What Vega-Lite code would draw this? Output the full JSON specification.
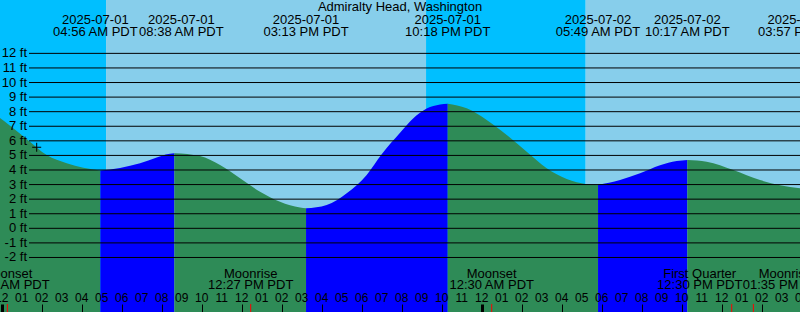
{
  "$schema": "https://vega.github.io/schema/vega-lite/v6.json",
  "width": 800,
  "height": 312,
  "autosize": "none",
  "padding": 0,
  "config": {
    "view": {"stroke": null},
    "text": {"font": "Liberation Sans", "fontSize": 13, "fill": "#000", "baseline": "alphabetic"}
  },
  "datasets": {
    "sky": [
      {"h": -1, "h2": 5.217, "sky": "night"},
      {"h": 5.217, "h2": 21.217, "sky": "day"},
      {"h": 21.217, "h2": 29.2, "sky": "night"},
      {"h": 29.2, "h2": 41, "sky": "day"}
    ],
    "tide": [
      {"h": -0.167, "ft": 7.65, "seg": 1, "phase": "ebb"},
      {"h": 0.417, "ft": 7.03, "seg": 1, "phase": "ebb"},
      {"h": 1.333, "ft": 6.03, "seg": 1, "phase": "ebb"},
      {"h": 2.25, "ft": 5.03, "seg": 1, "phase": "ebb"},
      {"h": 2.75, "ft": 4.7, "seg": 1, "phase": "ebb"},
      {"h": 3.25, "ft": 4.46, "seg": 1, "phase": "ebb"},
      {"h": 4.083, "ft": 4.16, "seg": 1, "phase": "ebb"},
      {"h": 4.933, "ft": 3.97, "seg": 1, "phase": "ebb"},
      {"h": 4.933, "ft": 3.97, "seg": 2, "phase": "flood"},
      {"h": 5.917, "ft": 4.14, "seg": 2, "phase": "flood"},
      {"h": 6.917, "ft": 4.46, "seg": 2, "phase": "flood"},
      {"h": 7.75, "ft": 4.85, "seg": 2, "phase": "flood"},
      {"h": 8.2, "ft": 5.07, "seg": 2, "phase": "flood"},
      {"h": 8.633, "ft": 5.15, "seg": 2, "phase": "flood"},
      {"h": 8.633, "ft": 5.15, "seg": 3, "phase": "ebb"},
      {"h": 9.917, "ft": 4.96, "seg": 3, "phase": "ebb"},
      {"h": 10.917, "ft": 4.34, "seg": 3, "phase": "ebb"},
      {"h": 11.917, "ft": 3.43, "seg": 3, "phase": "ebb"},
      {"h": 12.917, "ft": 2.51, "seg": 3, "phase": "ebb"},
      {"h": 13.917, "ft": 1.82, "seg": 3, "phase": "ebb"},
      {"h": 14.917, "ft": 1.42, "seg": 3, "phase": "ebb"},
      {"h": 15.217, "ft": 1.37, "seg": 3, "phase": "ebb"},
      {"h": 15.217, "ft": 1.37, "seg": 4, "phase": "flood"},
      {"h": 16.25, "ft": 1.6, "seg": 4, "phase": "flood"},
      {"h": 17.25, "ft": 2.4, "seg": 4, "phase": "flood"},
      {"h": 18.25, "ft": 3.66, "seg": 4, "phase": "flood"},
      {"h": 19.0, "ft": 5.08, "seg": 4, "phase": "flood"},
      {"h": 19.917, "ft": 6.55, "seg": 4, "phase": "flood"},
      {"h": 20.583, "ft": 7.55, "seg": 4, "phase": "flood"},
      {"h": 21.25, "ft": 8.22, "seg": 4, "phase": "flood"},
      {"h": 21.917, "ft": 8.5, "seg": 4, "phase": "flood"},
      {"h": 22.3, "ft": 8.55, "seg": 4, "phase": "flood"},
      {"h": 22.3, "ft": 8.55, "seg": 5, "phase": "ebb"},
      {"h": 23.25, "ft": 8.23, "seg": 5, "phase": "ebb"},
      {"h": 24.25, "ft": 7.43, "seg": 5, "phase": "ebb"},
      {"h": 25.25, "ft": 6.4, "seg": 5, "phase": "ebb"},
      {"h": 26.25, "ft": 5.25, "seg": 5, "phase": "ebb"},
      {"h": 27.25, "ft": 4.12, "seg": 5, "phase": "ebb"},
      {"h": 28.25, "ft": 3.38, "seg": 5, "phase": "ebb"},
      {"h": 29.25, "ft": 3.03, "seg": 5, "phase": "ebb"},
      {"h": 29.817, "ft": 2.97, "seg": 5, "phase": "ebb"},
      {"h": 29.817, "ft": 2.97, "seg": 6, "phase": "flood"},
      {"h": 30.917, "ft": 3.31, "seg": 6, "phase": "flood"},
      {"h": 31.917, "ft": 3.77, "seg": 6, "phase": "flood"},
      {"h": 32.917, "ft": 4.32, "seg": 6, "phase": "flood"},
      {"h": 33.75, "ft": 4.61, "seg": 6, "phase": "flood"},
      {"h": 34.283, "ft": 4.68, "seg": 6, "phase": "flood"},
      {"h": 34.283, "ft": 4.68, "seg": 7, "phase": "ebb"},
      {"h": 35.25, "ft": 4.57, "seg": 7, "phase": "ebb"},
      {"h": 36.583, "ft": 4.0, "seg": 7, "phase": "ebb"},
      {"h": 37.917, "ft": 3.31, "seg": 7, "phase": "ebb"},
      {"h": 38.917, "ft": 2.96, "seg": 7, "phase": "ebb"},
      {"h": 39.95, "ft": 2.75, "seg": 7, "phase": "ebb"}
    ],
    "levels": [
      {"ft": -2, "label": "-2 ft"}, {"ft": -1, "label": "-1 ft"}, {"ft": 0, "label": "0 ft"},
      {"ft": 1, "label": "1 ft"}, {"ft": 2, "label": "2 ft"}, {"ft": 3, "label": "3 ft"},
      {"ft": 4, "label": "4 ft"}, {"ft": 5, "label": "5 ft"}, {"ft": 6, "label": "6 ft"},
      {"ft": 7, "label": "7 ft"}, {"ft": 8, "label": "8 ft"}, {"ft": 9, "label": "9 ft"},
      {"ft": 10, "label": "10 ft"}, {"ft": 11, "label": "11 ft"}, {"ft": 12, "label": "12 ft"}
    ],
    "hours": [
      {"h": 0, "label": "12"}, {"h": 1, "label": "01"}, {"h": 2, "label": "02"}, {"h": 3, "label": "03"},
      {"h": 4, "label": "04"}, {"h": 5, "label": "05"}, {"h": 6, "label": "06"}, {"h": 7, "label": "07"},
      {"h": 8, "label": "08"}, {"h": 9, "label": "09"}, {"h": 10, "label": "10"}, {"h": 11, "label": "11"},
      {"h": 12, "label": "12"}, {"h": 13, "label": "01"}, {"h": 14, "label": "02"}, {"h": 15, "label": "03"},
      {"h": 16, "label": "04"}, {"h": 17, "label": "05"}, {"h": 18, "label": "06"}, {"h": 19, "label": "07"},
      {"h": 20, "label": "08"}, {"h": 21, "label": "09"}, {"h": 22, "label": "10"}, {"h": 23, "label": "11"},
      {"h": 24, "label": "12"}, {"h": 25, "label": "01"}, {"h": 26, "label": "02"}, {"h": 27, "label": "03"},
      {"h": 28, "label": "04"}, {"h": 29, "label": "05"}, {"h": 30, "label": "06"}, {"h": 31, "label": "07"},
      {"h": 32, "label": "08"}, {"h": 33, "label": "09"}, {"h": 34, "label": "10"}, {"h": 35, "label": "11"},
      {"h": 36, "label": "12"}, {"h": 37, "label": "01"}, {"h": 38, "label": "02"}, {"h": 39, "label": "03"},
      {"h": 40, "label": "04"}
    ],
    "events": [
      {"h": 4.933, "date": "2025-07-01", "time": "04:56 AM PDT"},
      {"h": 8.633, "date": "2025-07-01", "time": "08:38 AM PDT"},
      {"h": 15.217, "date": "2025-07-01", "time": "03:13 PM PDT"},
      {"h": 22.3, "date": "2025-07-01", "time": "10:18 PM PDT"},
      {"h": 29.817, "date": "2025-07-02", "time": "05:49 AM PDT"},
      {"h": 34.283, "date": "2025-07-02", "time": "10:17 AM PDT"},
      {"h": 39.95, "date": "2025-07-02", "time": "03:57 PM PDT"}
    ],
    "moon": [
      {"h": 0.283, "name": "Moonset", "time": "12:17 AM PDT", "id": 1},
      {"h": 12.45, "name": "Moonrise", "time": "12:27 PM PDT", "id": 2},
      {"h": 24.5, "name": "Moonset", "time": "12:30 AM PDT", "id": 3},
      {"h": 36.5, "name": "First Quarter", "time": "12:30 PM PDT", "id": 4},
      {"h": 37.583, "name": "Moonrise", "time": "01:35 PM PDT", "id": 5}
    ],
    "now": [
      {"h": 1.75, "ft": 5.56}
    ],
    "station": [
      {"name": "Admiralty Head, Washington"}
    ]
  },
  "resolve": {"scale": {"color": "independent"}},
  "layer": [
    {
      "data": {"name": "sky"},
      "mark": {"type": "rect", "clip": true},
      "encoding": {
        "x": {
          "field": "h", "type": "quantitative",
          "scale": {"domain": [-0.085, 39.915], "nice": false, "zero": false},
          "axis": {
            "orient": "top", "offset": -312, "title": null, "domain": false, "grid": false,
            "values": [0, 1, 2, 3, 4, 5, 6, 7, 8, 9, 10, 11, 12, 13, 14, 15, 16, 17, 18, 19, 20, 21, 22, 23, 24, 25, 26, 27, 28, 29, 30, 31, 32, 33, 34, 35, 36, 37, 38, 39],
            "labels": false,
            "tickSize": 8, "tickColor": "#000",
            "tickWidth": {"condition": {"test": "datum.value % 24 == 0", "value": 3}, "value": 1},
            "zindex": 1
          }
        },
        "x2": {"field": "h2"},
        "color": {"field": "sky", "type": "nominal", "scale": {"domain": ["night", "day"], "range": ["#00BFFF", "#87CEEB"]}, "legend": null}
      }
    },
    {
      "data": {"name": "tide"},
      "mark": {"type": "area", "interpolate": "monotone", "clip": true},
      "encoding": {
        "x": {"field": "h", "type": "quantitative"},
        "y": {
          "field": "ft", "type": "quantitative", "stack": null,
          "scale": {"domain": [-5.74, 15.66], "nice": false, "zero": false},
          "axis": null
        },
        "y2": {"datum": -5.74},
        "color": {"field": "phase", "type": "nominal", "scale": {"domain": ["ebb", "flood"], "range": ["#2E8B57", "#0000FF"]}, "legend": null},
        "detail": {"field": "seg", "type": "nominal"}
      }
    },
    {
      "data": {"name": "levels"},
      "mark": {"type": "rule", "color": "#000", "strokeWidth": 1},
      "encoding": {
        "y": {"field": "ft", "type": "quantitative"},
        "x": {"datum": 1.365},
        "x2": {"datum": 39.915}
      }
    },
    {
      "data": {"name": "levels"},
      "mark": {"type": "text", "align": "right", "baseline": "middle"},
      "encoding": {
        "y": {"field": "ft", "type": "quantitative"},
        "x": {"datum": 1.265},
        "text": {"field": "label"}
      }
    },
    {
      "data": {"name": "hours"},
      "mark": {"type": "text", "align": "center", "fontSize": 12},
      "encoding": {
        "x": {"field": "h", "type": "quantitative"},
        "y": {"datum": -5.03},
        "text": {"field": "label"}
      }
    },
    {
      "data": {"name": "moon"},
      "mark": {"type": "rule", "color": "#FF0000", "strokeWidth": 1},
      "encoding": {
        "x": {"field": "h", "type": "quantitative"},
        "y": {"datum": -5.19},
        "y2": {"datum": -5.74}
      }
    },
    {
      "data": {"name": "now"},
      "mark": {"type": "point", "shape": "M-1,0L1,0M0,-1L0,1", "size": 81, "filled": false, "stroke": "#000", "strokeWidth": 1, "opacity": 1},
      "encoding": {
        "x": {"field": "h", "type": "quantitative"},
        "y": {"field": "ft", "type": "quantitative"}
      }
    },
    {
      "data": {"name": "station"},
      "mark": {"type": "text", "align": "center"},
      "encoding": {
        "x": {"datum": 19.915},
        "y": {"datum": 14.9},
        "text": {"field": "name"}
      }
    },
    {
      "data": {"name": "events"},
      "transform": [{"filter": "datum.time != '04:56 AM PDT' && datum.time != '08:38 AM PDT'"}],
      "layer": [
        {"mark": {"type": "text"}, "encoding": {"x": {"field": "h", "type": "quantitative"}, "y": {"datum": 14.01}, "text": {"field": "date"}}},
        {"mark": {"type": "text"}, "encoding": {"x": {"field": "h", "type": "quantitative"}, "y": {"datum": 13.21}, "text": {"field": "time"}}}
      ]
    },
    {
      "data": {"name": "events"},
      "transform": [{"filter": "datum.time == '04:56 AM PDT'"}],
      "layer": [
        {"mark": {"type": "text", "dx": -5}, "encoding": {"x": {"field": "h", "type": "quantitative"}, "y": {"datum": 14.01}, "text": {"field": "date"}}},
        {"mark": {"type": "text", "dx": -5}, "encoding": {"x": {"field": "h", "type": "quantitative"}, "y": {"datum": 13.21}, "text": {"field": "time"}}}
      ]
    },
    {
      "data": {"name": "events"},
      "transform": [{"filter": "datum.time == '08:38 AM PDT'"}],
      "layer": [
        {"mark": {"type": "text", "dx": 7}, "encoding": {"x": {"field": "h", "type": "quantitative"}, "y": {"datum": 14.01}, "text": {"field": "date"}}},
        {"mark": {"type": "text", "dx": 7}, "encoding": {"x": {"field": "h", "type": "quantitative"}, "y": {"datum": 13.21}, "text": {"field": "time"}}}
      ]
    },
    {
      "data": {"name": "moon"},
      "transform": [{"filter": "datum.id <= 3"}],
      "layer": [
        {"mark": {"type": "text"}, "encoding": {"x": {"field": "h", "type": "quantitative"}, "y": {"datum": -3.43}, "text": {"field": "name"}}},
        {"mark": {"type": "text"}, "encoding": {"x": {"field": "h", "type": "quantitative"}, "y": {"datum": -4.18}, "text": {"field": "time"}}}
      ]
    },
    {
      "data": {"name": "moon"},
      "transform": [{"filter": "datum.id == 4"}],
      "layer": [
        {"mark": {"type": "text", "dx": -32}, "encoding": {"x": {"field": "h", "type": "quantitative"}, "y": {"datum": -3.43}, "text": {"field": "name"}}},
        {"mark": {"type": "text", "dx": -32}, "encoding": {"x": {"field": "h", "type": "quantitative"}, "y": {"datum": -4.18}, "text": {"field": "time"}}}
      ]
    },
    {
      "data": {"name": "moon"},
      "transform": [{"filter": "datum.id == 5"}],
      "layer": [
        {"mark": {"type": "text", "dx": 32}, "encoding": {"x": {"field": "h", "type": "quantitative"}, "y": {"datum": -3.43}, "text": {"field": "name"}}},
        {"mark": {"type": "text", "dx": 32}, "encoding": {"x": {"field": "h", "type": "quantitative"}, "y": {"datum": -4.18}, "text": {"field": "time"}}}
      ]
    }
  ]
}
